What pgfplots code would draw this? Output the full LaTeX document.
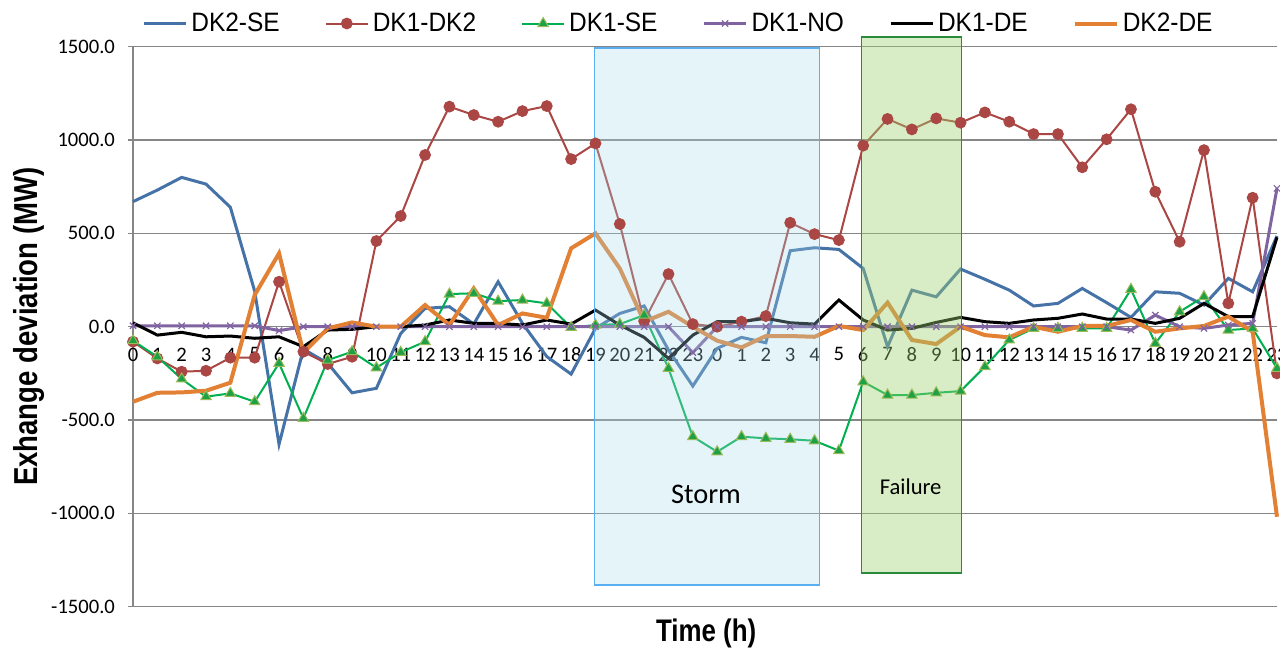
\documentclass[border=0pt]{standalone}
\usepackage{fontspec}
\setmainfont{Carlito}
\newfontfamily\legfont[FakeStretch=0.92]{Liberation Sans}
\newfontfamily\labfont[FakeStretch=0.83]{Liberation Sans Bold}
\usepackage{pgfplots}
\pgfplotsset{compat=1.18}
\usepackage{pgfplotstable}

\definecolor{cBlue}{RGB}{69,114,167}
\definecolor{cRed}{RGB}{170,70,67}
\definecolor{cGreen}{RGB}{0,176,80}
\definecolor{cGreenFill}{RGB}{30,160,70}
\definecolor{cGreenEdge}{RGB}{155,187,89}
\definecolor{cPurple}{RGB}{128,100,162}
\definecolor{cOrange}{RGB}{226,128,52}
\definecolor{cGrid}{RGB}{134,134,134}
\definecolor{stormFill}{RGB}{165,218,232}
\definecolor{stormEdge}{RGB}{90,175,240}
\definecolor{failFill}{RGB}{157,210,112}
\definecolor{failEdge}{RGB}{40,140,60}

\pgfplotstableread{
x  dkse dkdk dk1se no  de  dkde
0  670  -80  -75   5   21  -402
1  732  -170 -161  5   -45 -354
2  800  -241 -280  5   -30 -352
3  764  -236 -375  5   -54 -343
4  640  -166 -357  5   -50 -300
5  190  -166 -402  5   -62 170
6  -630 241  -196  -21 -54 393
7  -120 -134 -491  0   -107 -139
8  -196 -200 -179  0   -18 -9
9  -354 -161 -134  0   -14 23
10 -330 459  -220  0   0   0
11 -36  593  -137  0   0   0
12 98   920  -80   0   9   116
13 107  1179 175   0   36  9
14 14   1134 179   0   18  205
15 241  1098 137   0   18  9
16 18   1155 143   0   9   71
17 -160 1182 125   0   36  48
18 -254 898  -4    0   14  420
19 -9   982  9     0   89  500
20 71   550  14    0   9   312
21 111  30   62    0   -57 27
22 -125 282  -223  0   -170 80
23 -318 14   -589  -139 -45 0
24 -116 0    -670  0   27  -75
25 -57  27   -589  0   27  -111
26 -86  57   -598  0   45  -50
27 407  557  -603  0   21  -50
28 423  496  -611  0   14  -54
29 414  464  -664  0   143 4
30 312  970  -295  0   36  -18
31 -107 1113 -366  0   -18 129
32 196  1057 -366  0   -9  -71
33 160  1116 -354  0   23  -93
34 309  1093 -345  0   50  0
35 254  1148 -214  0   27  -45
36 196  1098 -71   0   18  -57
37 111  1032 -9    0   36  0
38 125  1032 -9    0   45  -27
39 205  854  -9    0   68  4
40 129  1004 -9    0   41  4
41 50   1165 200   -18 41  36
42 187  723  -89   62  18  -27
43 179  455  80    0   45  -9
44 116  946  161   -9  125 4
45 259  125  -18   9   54  54
46 187  691  -9    18  54  -27
47 486  -250 -223  741 479 -1018
}\data

\begin{document}
\begin{tikzpicture}
\begin{axis}[
  scale only axis, width=572pt, height=280pt,
  xmin=0, xmax=47, ymin=-1500, ymax=1500,
  clip=false,
  axis x line=middle, axis y line=left,
  hide obscured x ticks=false, hide obscured y ticks=false,
  axis line style={-, draw=cGrid, line width=0.75pt},
  ymajorgrids, grid style={draw=cGrid, line width=0.75pt},
  ytick={-1500,-1000,...,1500},
  xtick={0,...,47},
  xticklabels={0,1,2,3,4,5,6,7,8,9,10,11,12,13,14,15,16,17,18,19,20,21,22,23,0,1,2,3,4,5,6,7,8,9,10,11,12,13,14,15,16,17,18,19,20,21,22,23},
  x tick style={draw=none},
  y tick style={draw=cGrid, line width=0.75pt},
  major tick length=2.5pt, ytick pos=left,
  tick align=outside,
  scaled y ticks=false,
  yticklabel style={/pgf/number format/fixed, /pgf/number format/fixed zerofill, /pgf/number format/precision=1, /pgf/number format/1000 sep={}, /pgf/number format/assume math mode=true, xshift=-3pt},
  tick label style={font=\fontsize{10.3}{12}\selectfont, text=black},
  xticklabel style={yshift=-4.5pt, inner xsep=0pt},
  xlabel={Time (h)},
  ylabel={Exhange deviation (MW)},
  xlabel style={font=\labfont\fontsize{15.6}{18}\selectfont, at={(rel axis cs:0.501,0)}, anchor=base, yshift=-17.5pt},
  ylabel style={font=\labfont\fontsize{16.6}{19}\selectfont, at={(rel axis cs:-0.0837,0.5)}, anchor=base},
  legend columns=6,
  legend style={draw=none, fill=none, at={(rel axis cs:0,1)}, anchor=west, xshift=4.5pt, yshift=11.6pt,
    inner xsep=0pt, inner ysep=0pt,
    font=\legfont\fontsize{13.3}{15}\selectfont,
    /tikz/every even column/.append style={column sep=20.5pt}},
  legend cell align=left,
  legend image code/.code={\draw[mark repeat=2,mark phase=2,#1] plot coordinates {(0pt,0pt) (10.5pt,0pt) (21pt,0pt)};},
]
\addplot[cBlue, line width=1.5pt, no markers] table[x=x,y=dkse]{\data};
\addlegendentry{DK2-SE}
\addplot[cRed, line width=1pt, mark=*, mark size=2.7pt, mark options={fill=cRed, draw=cRed, line width=0.5pt}] table[x=x,y=dkdk]{\data};
\addlegendentry{DK1-DK2}
\addplot[cGreen, line width=1pt, mark=triangle*, mark size=3pt, mark options={fill=cGreenFill, draw=cGreenEdge, line width=0.5pt}] table[x=x,y=dk1se]{\data};
\addlegendentry{DK1-SE}
\addplot[cPurple, line width=1.5pt, mark=x, mark size=2.2pt, mark options={draw=cPurple, line width=0.6pt}] table[x=x,y=no]{\data};
\addlegendentry{DK1-NO}
\addplot[black, line width=1.5pt, no markers] table[x=x,y=de]{\data};
\addlegendentry{DK1-DE}
\addplot[cOrange, line width=2pt, no markers] table[x=x,y=dkde]{\data};
\addlegendentry{DK2-DE}

\draw[draw=stormEdge, line width=0.75pt, fill=stormFill, fill opacity=0.3] (axis cs:18.95,1493) rectangle (axis cs:28.2,-1384);
\draw[draw=failEdge, line width=0.75pt, fill=failFill, fill opacity=0.4] (axis cs:29.92,1552) rectangle (axis cs:34.03,-1320);
\node[font=\fontsize{14.2}{16}\selectfont] at (axis cs:23.54,-896) {Storm};
\node[font=\fontsize{11.3}{13}\selectfont] at (axis cs:31.95,-857) {Failure};
\end{axis}
\pgfresetboundingbox
\path (-66.5pt,-21.65pt) rectangle (573.5pt,303.35pt);
\end{tikzpicture}
\end{document}
